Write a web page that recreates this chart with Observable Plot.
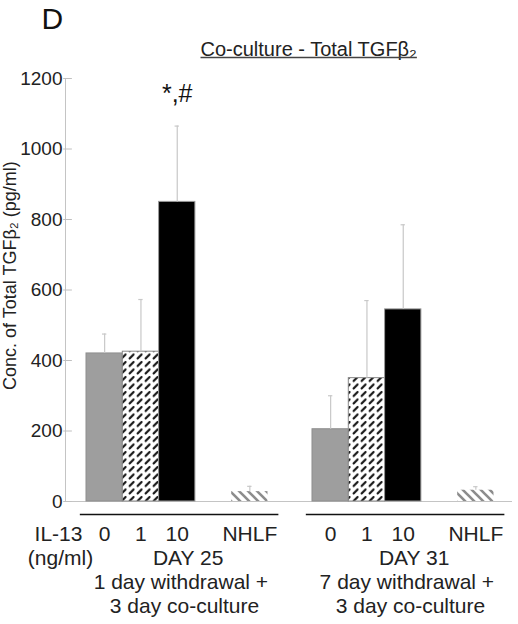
<!DOCTYPE html>
<html>
<head>
<meta charset="utf-8">
<script src="https://cdn.jsdelivr.net/npm/d3@7"></script>
<script src="https://cdn.jsdelivr.net/npm/@observablehq/plot@0.6"></script>
<style>
  html, body { margin: 0; padding: 0; background: #fff; }
</style>
</head>
<body>
<div id="chart"></div>
<script>
// ---- data ----
const groups = ["DAY 25", "DAY 31"];
const groupNoteLine1 = ["1 day withdrawal +", "7 day withdrawal +"];
const groupNoteLine2 = ["3 day co-culture", "3 day co-culture"];
const conditions = ["0", "1", "10", "NHLF"];
const meansDay25 = [420, 425, 850, 28];
const errsDay25 = [55, 148, 215, 15];
const meansDay31 = [205, 350, 545, 32];
const errsDay31 = [95, 220, 240, 10];
const yTicks = [0, 200, 400, 600, 800, 1000, 1200];
const significance = [{group: "DAY 25", condition: "10", label: "*,#"}];
const titleText = "Co-culture - Total TGFβ₂";
const yLabel = "Conc. of Total TGFβ₂ (pg/ml)";
const panelLetter = "D";
const doseLabel = ["IL-13", "(ng/ml)"];

// ---- layout helpers (code, not data) ----
const groupOffset = 6.226;
const slot = (gi, ci) => gi * groupOffset + ci + (ci === conditions.length - 1 ? 1 : 0);
const means = [meansDay25, meansDay31];
const errs = [errsDay25, errsDay31];
const data = groups.flatMap((g, gi) => conditions.map((c, ci) => ({
  group: g, gi, condition: c, ci,
  value: means[gi][ci], err: errs[gi][ci], s: slot(gi, ci)
})));
const styles = [
  {fill: "#9e9e9e", stroke: "#8e8e8e"},
  {fill: "url(#weave)", stroke: "#8a8a8a"},
  {fill: "#000", stroke: "#9a9a9a"},
  {fill: "url(#stripe)", stroke: "none"}
];
const xDomain = [-0.5785, 11.736];
const font = "Liberation Sans, Arial, Helvetica, sans-serif";
const labelSize = 21;
const findBar = d => data.find(e => e.group === d.group && e.condition === d.condition);

const chart = Plot.plot({
  width: 518,
  height: 624,
  marginLeft: 65,
  marginRight: 6,
  marginTop: 78,
  marginBottom: 123,
  style: {fontFamily: font, fontSize: "16px", color: "#222", background: "#fff", overflow: "visible"},
  x: {type: "linear", domain: xDomain, axis: null},
  y: {domain: [0, 1200], axis: null},
  marks: [
    Plot.ruleY([0], {stroke: "#c4c4c4", strokeWidth: 1}),
    Plot.ruleX([xDomain[0]], {stroke: "#c4c4c4", strokeWidth: 1}),
    Plot.axisY({ticks: yTicks, tickFormat: d => String(d), tickSize: 0, tickPadding: 3, fill: "#222", fontSize: 19, label: null}),
    Plot.ruleY(yTicks, {x1: xDomain[0] - 0.05, x2: xDomain[0] + 0.19, stroke: "#c0c0c0", strokeWidth: 1}),
    ...conditions.map((c, ci) => Plot.rectY(data.filter(d => d.ci === ci), {
      x1: "s", x2: d => d.s + 1, y: "value",
      fill: styles[ci].fill, stroke: styles[ci].stroke, strokeWidth: 1
    })),
    Plot.ruleX(data, {x: d => d.s + 0.5, y1: "value", y2: d => d.value + d.err, stroke: "#c8c8c8", strokeWidth: 1.2}),
    Plot.ruleY(data, {x1: d => d.s + 0.44, x2: d => d.s + 0.56, y: d => d.value + d.err, stroke: "#c8c8c8", strokeWidth: 1.2}),
    Plot.text(significance, {
      x: d => findBar(d).s + 0.5,
      y: d => findBar(d).value + findBar(d).err,
      text: "label", lineAnchor: "bottom", dy: -24, fontSize: 25, fill: "#111"
    }),
    // group underlines
    Plot.ruleY(groups, {x1: (g, i) => i * groupOffset - 0.17, x2: (g, i) => i * groupOffset + 5.3, y: () => 0, dy: 13, stroke: "#111", strokeWidth: 1.6}),
    // condition labels
    Plot.text(data, {x: d => d.s + 0.5, text: "condition", frameAnchor: "bottom", dy: 39, fontSize: labelSize, fill: "#222"}),
    Plot.text([doseLabel[0]], {frameAnchor: "bottom-left", textAnchor: "middle", dx: -7, dy: 39, fontSize: labelSize, fill: "#222"}),
    Plot.text([doseLabel[1]], {frameAnchor: "bottom-left", textAnchor: "middle", dx: -5, dy: 63, fontSize: labelSize, fill: "#222"}),
    Plot.text(groups, {x: (g, i) => i * groupOffset + 2.8, text: d => d, frameAnchor: "bottom", dy: 63, fontSize: labelSize, fill: "#222"}),
    Plot.text(groupNoteLine1, {x: (g, i) => i * groupOffset + 2.6, text: d => d, frameAnchor: "bottom", dy: 87, fontSize: labelSize, fill: "#222"}),
    Plot.text(groupNoteLine2, {x: (g, i) => i * groupOffset + 2.7, text: d => d, frameAnchor: "bottom", dy: 111, fontSize: labelSize, fill: "#222"}),
    // y label
    Plot.text([yLabel], {x: -2.094, y: 641, rotate: -90, fontSize: 18, fill: "#222"}),
    // title
    Plot.text([titleText], {frameAnchor: "top-left", dx: 135, dy: -23, lineAnchor: "bottom", textAnchor: "start", fontSize: 20, fill: "#222"}),
    // panel letter
    Plot.text([panelLetter], {frameAnchor: "top-left", dx: -24, dy: -50, lineAnchor: "bottom", textAnchor: "start", fontSize: 30, fill: "#111"})
  ]
});

const svgNode = chart.tagName.toLowerCase() === "svg" ? chart : chart.querySelector("svg");
const svg = d3.select(svgNode);
const defs = svg.insert("defs", ":first-child");
const weave = defs.append("pattern").attr("id", "weave").attr("patternUnits", "userSpaceOnUse")
  .attr("width", 8).attr("height", 7.5);
weave.append("rect").attr("width", 8).attr("height", 7.5).attr("fill", "#fff");
weave.append("path").attr("d", "M1.6,6L5.6,2").attr("stroke", "#1a1a1a").attr("stroke-width", 2.1).attr("stroke-linecap", "round");
const stripe = defs.append("pattern").attr("id", "stripe").attr("patternUnits", "userSpaceOnUse")
  .attr("width", 9).attr("height", 9);
stripe.append("rect").attr("width", 9).attr("height", 9).attr("fill", "#fff");
stripe.append("path").attr("d", "M-2.25,6.75L2.25,11.25M0,0L9,9M6.75,-2.25L11.25,2.25").attr("stroke", "#8c8c8c").attr("stroke-width", 2.6);

document.getElementById("chart").appendChild(chart);

// underline the title (decoration measured from the rendered text)
const titleNode = svg.selectAll("text").filter(function() { return this.textContent === titleText; }).node();
if (titleNode) {
  const tb = titleNode.getBoundingClientRect();
  const sb = svgNode.getBoundingClientRect();
  const x0 = tb.left - sb.left;
  const x1 = tb.right - sb.left;
  const yLine = tb.bottom - sb.top - 2;
  svg.append("line").attr("x1", x0).attr("x2", x1)
    .attr("y1", yLine).attr("y2", yLine)
    .attr("stroke", "#444").attr("stroke-width", 1.3);
}
</script>
